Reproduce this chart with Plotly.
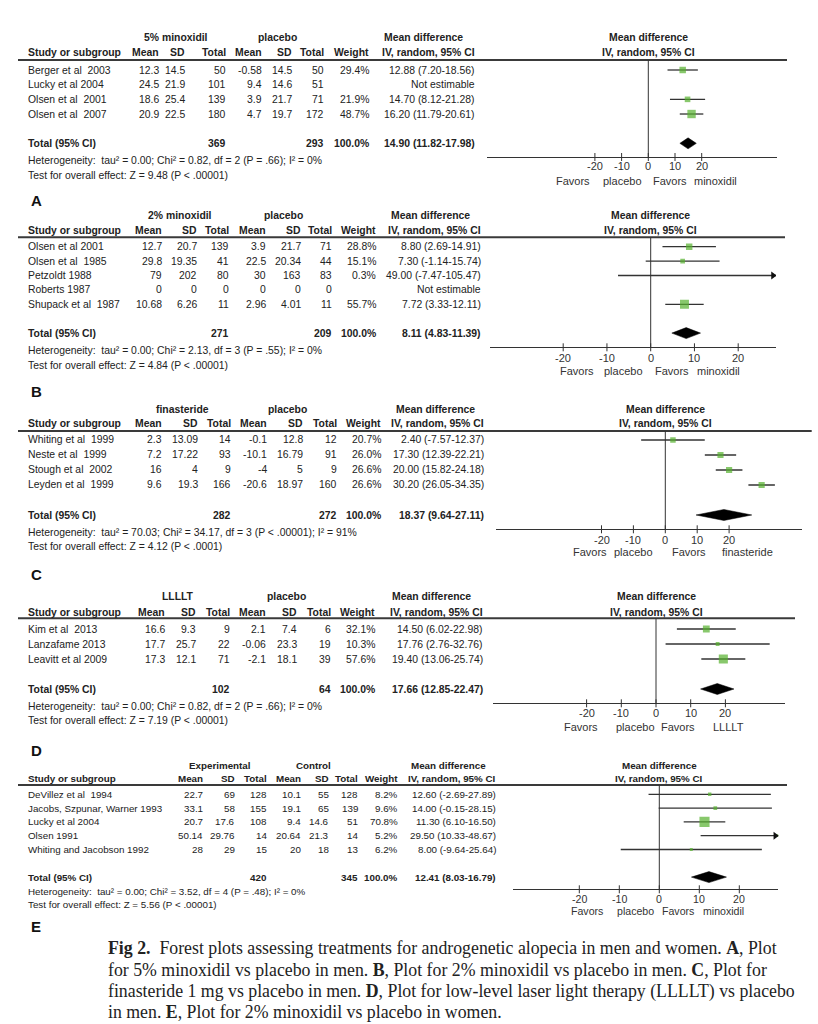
import math
import plotly.graph_objects as go

W, H = 818, 1024
SANS = "Liberation Sans, Arial, sans-serif"
SERIF = "Liberation Serif, Times New Roman, serif"
TXT = "#222222"
LINE = "#333333"
GREEN = "#55B02E"

# ---------------- Panel A : 5% minoxidil vs placebo (men) ----------------
a_studies = ["Berger et al  2003", "Lucky et al 2004", "Olsen et al  2001", "Olsen et al  2007"]
a_mean1 = [12.3, 24.5, 18.6, 20.9]
a_sd1 = [14.5, 21.9, 25.4, 22.5]
a_n1 = [50, 101, 139, 180]
a_mean2 = [-0.58, 9.4, 3.9, 4.7]
a_sd2 = [14.5, 14.6, 21.7, 19.7]
a_n2 = [50, 51, 71, 172]
a_weight = [29.4, None, 21.9, 48.7]
a_md = [12.88, None, 14.70, 16.20]
a_lo = [7.20, None, 8.12, 11.79]
a_hi = [18.56, None, 21.28, 20.61]
a_total = [369, 293]
a_pooled = [14.90, 11.82, 17.98]
a_het = "Heterogeneity:  tau² = 0.00; Chi² = 0.82, df = 2 (P = .66); I² = 0%"
a_test = "Test for overall effect: Z = 9.48 (P < .00001)"
a_groups = ["5% minoxidil", "placebo"]
a_favors = ["Favors", "placebo", "Favors", "minoxidil"]

# ---------------- Panel B : 2% minoxidil vs placebo (men) ----------------
b_studies = ["Olsen et al 2001", "Olsen et al  1985", "Petzoldt 1988", "Roberts 1987", "Shupack et al  1987"]
b_mean1 = [12.7, 29.8, 79, 0, 10.68]
b_sd1 = [20.7, 19.35, 202, 0, 6.26]
b_n1 = [139, 41, 80, 0, 11]
b_mean2 = [3.9, 22.5, 30, 0, 2.96]
b_sd2 = [21.7, 20.34, 163, 0, 4.01]
b_n2 = [71, 44, 83, 0, 11]
b_weight = [28.8, 15.1, 0.3, None, 55.7]
b_md = [8.80, 7.30, 49.00, None, 7.72]
b_lo = [2.69, -1.14, -7.47, None, 3.33]
b_hi = [14.91, 15.74, 105.47, None, 12.11]
b_total = [271, 209]
b_pooled = [8.11, 4.83, 11.39]
b_het = "Heterogeneity:  tau² = 0.00; Chi² = 2.13, df = 3 (P = .55); I² = 0%"
b_test = "Test for overall effect: Z = 4.84 (P < .00001)"
b_groups = ["2% minoxidil", "placebo"]
b_favors = ["Favors", "placebo", "Favors", "minoxidil"]

# ---------------- Panel C : finasteride vs placebo ----------------
c_studies = ["Whiting et al  1999", "Neste et al  1999", "Stough et al  2002", "Leyden et al  1999"]
c_mean1 = [2.3, 7.2, 16, 9.6]
c_sd1 = [13.09, 17.22, 4, 19.3]
c_n1 = [14, 93, 9, 166]
c_mean2 = [-0.1, -10.1, -4, -20.6]
c_sd2 = [12.8, 16.79, 5, 18.97]
c_n2 = [12, 91, 9, 160]
c_weight = [20.7, 26.0, 26.6, 26.6]
c_md = [2.40, 17.30, 20.00, 30.20]
c_lo = [-7.57, 12.39, 15.82, 26.05]
c_hi = [12.37, 22.21, 24.18, 34.35]
c_total = [282, 272]
c_pooled = [18.37, 9.64, 27.11]
c_het = "Heterogeneity:  tau² = 70.03; Chi² = 34.17, df = 3 (P < .00001); I² = 91%"
c_test = "Test for overall effect: Z = 4.12 (P < .0001)"
c_groups = ["finasteride", "placebo"]
c_favors = ["Favors", "placebo", "Favors", "finasteride"]

# ---------------- Panel D : LLLLT vs placebo ----------------
d_studies = ["Kim et al  2013", "Lanzafame 2013", "Leavitt et al 2009"]
d_mean1 = [16.6, 17.7, 17.3]
d_sd1 = [9.3, 25.7, 12.1]
d_n1 = [9, 22, 71]
d_mean2 = [2.1, -0.06, -2.1]
d_sd2 = [7.4, 23.3, 18.1]
d_n2 = [6, 19, 39]
d_weight = [32.1, 10.3, 57.6]
d_md = [14.50, 17.76, 19.40]
d_lo = [6.02, 2.76, 13.06]
d_hi = [22.98, 32.76, 25.74]
d_total = [102, 64]
d_pooled = [17.66, 12.85, 22.47]
d_het = "Heterogeneity:  tau² = 0.00; Chi² = 0.82, df = 2 (P = .66); I² = 0%"
d_test = "Test for overall effect: Z = 7.19 (P < .00001)"
d_groups = ["LLLLT", "placebo"]
d_favors = ["Favors", "placebo", "Favors", "LLLLT"]

# ---------------- Panel E : 2% minoxidil vs placebo (women) ----------------
e_studies = ["DeVillez et al  1994", "Jacobs, Szpunar, Warner 1993", "Lucky et al 2004",
             "Olsen 1991", "Whiting and Jacobson 1992"]
e_mean1 = [22.7, 33.1, 20.7, 50.14, 28]
e_sd1 = [69, 58, 17.6, 29.76, 29]
e_n1 = [128, 155, 108, 14, 15]
e_mean2 = [10.1, 19.1, 9.4, 20.64, 20]
e_sd2 = [55, 65, 14.6, 21.3, 18]
e_n2 = [128, 139, 51, 14, 13]
e_weight = [8.2, 9.6, 70.8, 5.2, 6.2]
e_md = [12.60, 14.00, 11.30, 29.50, 8.00]
e_lo = [-2.69, -0.15, 6.10, 10.33, -9.64]
e_hi = [27.89, 28.15, 16.50, 48.67, 25.64]
e_total = [420, 345]
e_pooled = [12.41, 8.03, 16.79]
e_het = "Heterogeneity:  tau² = 0.00; Chi² = 3.52, df = 4 (P = .48); I² = 0%"
e_test = "Test for overall effect: Z = 5.56 (P < .00001)"
e_groups = ["Experimental", "Control"]
e_favors = ["Favors", "placebo", "Favors", "minoxidil"]

panel_letters = ["A", "B", "C", "D", "E"]
tick_vals = [-20, -10, 0, 10, 20]
tick_text = ["-20", "-10", "0", "10", "20"]

caption_lines = [
    "<b>Fig 2.</b>  Forest plots assessing treatments for androgenetic alopecia in men and women. <b>A</b>, Plot",
    "for 5% minoxidil vs placebo in men. <b>B</b>, Plot for 2% minoxidil vs placebo in men. <b>C</b>, Plot for",
    "finasteride 1 mg vs placebo in men. <b>D</b>, Plot for low-level laser light therapy (LLLLT) vs placebo",
    "in men. <b>E</b>, Plot for 2% minoxidil vs placebo in women.",
]

data_sets = [
    dict(studies=a_studies, m1=a_mean1, s1=a_sd1, n1=a_n1, m2=a_mean2, s2=a_sd2, n2=a_n2, w=a_weight,
         md=a_md, lo=a_lo, hi=a_hi, tot=a_total, pooled=a_pooled, het=a_het, test=a_test,
         groups=a_groups, favors=a_favors),
    dict(studies=b_studies, m1=b_mean1, s1=b_sd1, n1=b_n1, m2=b_mean2, s2=b_sd2, n2=b_n2, w=b_weight,
         md=b_md, lo=b_lo, hi=b_hi, tot=b_total, pooled=b_pooled, het=b_het, test=b_test,
         groups=b_groups, favors=b_favors),
    dict(studies=c_studies, m1=c_mean1, s1=c_sd1, n1=c_n1, m2=c_mean2, s2=c_sd2, n2=c_n2, w=c_weight,
         md=c_md, lo=c_lo, hi=c_hi, tot=c_total, pooled=c_pooled, het=c_het, test=c_test,
         groups=c_groups, favors=c_favors),
    dict(studies=d_studies, m1=d_mean1, s1=d_sd1, n1=d_n1, m2=d_mean2, s2=d_sd2, n2=d_n2, w=d_weight,
         md=d_md, lo=d_lo, hi=d_hi, tot=d_total, pooled=d_pooled, het=d_het, test=d_test,
         groups=d_groups, favors=d_favors),
    dict(studies=e_studies, m1=e_mean1, s1=e_sd1, n1=e_n1, m2=e_mean2, s2=e_sd2, n2=e_n2, w=e_weight,
         md=e_md, lo=e_lo, hi=e_hi, tot=e_total, pooled=e_pooled, het=e_het, test=e_test,
         groups=e_groups, favors=e_favors),
]

# ---------------- layout geometry (pixels) ----------------
geoms = [
    dict(row0=70, sp=14.67, head1=37, head2=52, hline=60, axis=157, ticklab=166, favors=181, het=160,
         test=175, label=200, hright=787, L=487, R=777, zero=648.3, ppu=2.67, mdx=648,
         cols=[160, 186, 227, 263, 293, 325, 370, 476], gx=[176, 277, 424],
         fx=[573, 622, 670, 715], fs=10.4, afs=11),
    dict(row0=246.7, sp=14.4, head1=215, head2=230, hline=237.3, axis=347.3, ticklab=358, favors=371,
         het=350, test=365, label=391.7, hright=785, L=490, R=776, zero=650.7, ppu=4.375, mdx=650,
         cols=[163, 198, 230, 267, 302, 333, 377, 482], gx=[180, 283, 430],
         fx=[577, 623, 672, 718], fs=10.4, afs=11),
    dict(row0=440, sp=15.0, head1=409.3, head2=424, hline=431, axis=529.3, ticklab=540, favors=552.3,
         het=532.3, test=546, label=574.3, hright=811.7, L=496, R=801.7, zero=665.3, ppu=3.19, mdx=665,
         cols=[163, 199, 232, 268, 304, 338, 382, 485], gx=[182, 287, 435],
         fx=[590, 633, 689, 747], fs=10.4, afs=11),
    dict(row0=629, sp=15.0, head1=596.7, head2=612.3, hline=618.3, axis=703.3, ticklab=713.3,
         favors=727.3, het=706, test=720.7, label=750, hright=795, L=493, R=785, zero=656, ppu=3.47,
         mdx=656, cols=[165.7, 196.7, 230.7, 266.7, 297.7, 331.7, 376, 484], gx=[178, 286, 431.7],
         fx=[581, 635, 678, 728], fs=10.4, afs=11),
    dict(row0=794.3, sp=13.8, head1=765, head2=778.3, hline=785, axis=889.3, ticklab=899.3,
         favors=910.7, het=891.7, test=904.3, label=926.7, hright=787, L=513, R=778.3, zero=659.3,
         ppu=4.0, mdx=659, cols=[204, 236, 267.7, 301.7, 330, 359, 399, 497.3],
         gx=[220, 313.3, 448.3], fx=[587, 635, 678, 723], fs=9.8, afs=10.6),
]


def fnum(v):
    return f"{v:g}"


def ci_text(m, lo, hi):
    return f"{m:.2f} ({lo:.2f}-{hi:.2f})"


fig = go.Figure()
annotations = []
shapes = []
axes = {}


def txt(xpx, y, s, yref, anchor="right", size=10.4, bold=False, family=SANS, color=TXT, xref="paper"):
    annotations.append(dict(
        x=xpx / W if xref == "paper" else xpx, xref=xref, y=y, yref=yref,
        text=f"<b>{s}</b>" if bold else s, showarrow=False, xanchor=anchor, yanchor="middle",
        borderpad=0, font=dict(size=size, family=family, color=color)))


STUDY_X = 26.7

for k, (d, g) in enumerate(zip(data_sets, geoms), start=1):
    xa = "x" if k == 1 else f"x{k}"
    ya = "y" if k == 1 else f"y{k}"
    xname = "xaxis" if k == 1 else f"xaxis{k}"
    yname = "yaxis" if k == 1 else f"yaxis{k}"
    row0, sp = g["row0"], g["sp"]

    def row(py):
        return (py - row0) / sp

    top_px = g["head1"] - 14
    bot_px = g["label"] + 14
    xmin = (g["L"] - g["zero"]) / g["ppu"]
    xmax = (g["R"] - g["zero"]) / g["ppu"]
    axes[yname] = dict(domain=[1 - bot_px / H, 1 - top_px / H], range=[row(bot_px), row(top_px)],
                       visible=False, anchor=xa, fixedrange=True)
    axes[xname] = dict(domain=[g["L"] / W, g["R"] / W], range=[xmin, xmax], anchor="free",
                       position=1 - g["axis"] / H, showline=True, linecolor=LINE, linewidth=1,
                       ticks="", showticklabels=False,
                       showgrid=False, zeroline=False, fixedrange=True)

    fs = g["fs"]
    cols = g["cols"]
    n = len(d["studies"])

    # header rows
    txt(g["gx"][0], row(g["head1"]), d["groups"][0], ya, "center", fs, True)
    txt(g["gx"][1], row(g["head1"]), d["groups"][1], ya, "center", fs, True)
    txt(g["gx"][2], row(g["head1"]), "Mean difference", ya, "center", fs, True)
    txt(STUDY_X, row(g["head2"]), "Study or subgroup", ya, "left", fs, True)
    for c, lab in zip(cols, ["Mean", "SD", "Total", "Mean", "SD", "Total", "Weight", "IV, random, 95% CI"]):
        txt(c, row(g["head2"]), lab, ya, "right", fs, True)
    # forest header
    txt(g["mdx"], row(g["head1"]), "Mean difference", ya, "center", fs, True)
    txt(g["mdx"], row(g["head2"]), "IV, random, 95% CI", ya, "center", fs, True)

    # study rows
    for i in range(n):
        txt(STUDY_X, i, d["studies"][i], ya, "left", fs)
        vals = [fnum(d["m1"][i]), fnum(d["s1"][i]), fnum(d["n1"][i]),
                fnum(d["m2"][i]), fnum(d["s2"][i]), fnum(d["n2"][i])]
        for c, v in zip(cols[:6], vals):
            txt(c, i, v, ya, "right", fs)
        if d["w"][i] is not None:
            txt(cols[6], i, f"{d['w'][i]:.1f}%", ya, "right", fs)
        if d["md"][i] is not None:
            txt(cols[7], i, ci_text(d["md"][i], d["lo"][i], d["hi"][i]), ya, "right", fs)
        else:
            txt(cols[7], i, "Not estimable", ya, "right", fs)

    # total row
    tr = n + 1
    txt(STUDY_X, tr, "Total (95% CI)", ya, "left", fs, True)
    txt(cols[2], tr, fnum(d["tot"][0]), ya, "right", fs, True)
    txt(cols[5], tr, fnum(d["tot"][1]), ya, "right", fs, True)
    txt(cols[6], tr, "100.0%", ya, "right", fs, True)
    pm, pl, ph = d["pooled"]
    txt(cols[7], tr, ci_text(pm, pl, ph), ya, "right", fs, True)

    txt(STUDY_X, row(g["het"]), d["het"], ya, "left", fs)
    txt(STUDY_X, row(g["test"]), d["test"], ya, "left", fs)

    # axis tick labels and crossing ticks (placed on the forest x scale)
    for v, lab in zip(tick_vals, tick_text):
        txt(v, row(g["ticklab"]), lab, ya, "center", g["afs"], color="#333", xref=xa)
        shapes.append(dict(type="line", xref=xa, yref=ya, x0=v, x1=v,
                           y0=row(g["axis"] - 4), y1=row(g["axis"] + 4),
                           line=dict(color=LINE, width=1)))

    # favors labels
    for fxp, lab in zip(g["fx"], d["favors"]):
        txt(fxp, row(g["favors"]), lab, ya, "center", g["afs"], color="#333")

    # panel letter
    txt(36, row(g["label"]), panel_letters[k - 1], ya, "center", 15, True, color="#111")

    # header rule and zero line
    shapes.append(dict(type="line", xref="paper", yref=ya, x0=18 / W, x1=g["hright"] / W,
                       y0=row(g["hline"]), y1=row(g["hline"]), line=dict(color="#3a3a3a", width=2)))
    shapes.append(dict(type="line", xref=xa, yref=ya, x0=0, x1=0,
                       y0=row(g["hline"]), y1=row(g["axis"]), line=dict(color=LINE, width=1)))

    # study markers with CI whiskers
    idx = [i for i in range(n) if d["md"][i] is not None]
    xs = [d["md"][i] for i in idx]
    ys = idx
    plus = [d["hi"][i] - d["md"][i] for i in idx]
    minus = [d["md"][i] - d["lo"][i] for i in idx]
    sizes = [max(2.0, 1.2 * math.sqrt(d["w"][i])) for i in idx]
    fig.add_trace(go.Scatter(
        x=xs, y=ys, mode="markers", xaxis=xa, yaxis=ya, hoverinfo="skip",
        marker=dict(symbol="square", size=sizes, color=GREEN, line=dict(width=0)),
        error_x=dict(type="data", symmetric=False, array=plus, arrayminus=minus,
                     color=LINE, thickness=1.3, width=0)))

    # arrows for CIs running off the scale
    ax_x, ax_y, ax_sym = [], [], []
    for i in idx:
        if d["hi"][i] > xmax:
            ax_x.append(xmax - 3.0 / g["ppu"]); ax_y.append(i); ax_sym.append("triangle-right")
        if d["lo"][i] < xmin:
            ax_x.append(xmin + 3.0 / g["ppu"]); ax_y.append(i); ax_sym.append("triangle-left")
    if ax_x:
        fig.add_trace(go.Scatter(x=ax_x, y=ax_y, mode="markers", xaxis=xa, yaxis=ya, hoverinfo="skip",
                                 marker=dict(symbol=ax_sym, size=7, color="#111", line=dict(width=0))))

    # pooled diamond
    hh = 5.5 / sp
    fig.add_trace(go.Scatter(
        x=[pl, pm, ph, pm, pl], y=[tr, tr - hh, tr, tr + hh, tr], mode="lines", fill="toself",
        fillcolor="#000000", line=dict(color="#000000", width=0.5), xaxis=xa, yaxis=ya, hoverinfo="skip"))

# caption
cap_y = [948, 969.5, 991, 1012]
for line, py in zip(caption_lines, cap_y):
    annotations.append(dict(x=107 / W, xref="paper", y=1 - py / H, yref="paper", text=line,
                            showarrow=False, xanchor="left", yanchor="middle", borderpad=0,
                            font=dict(size=17.8, family=SERIF, color=TXT)))

fig.update_layout(
    width=W, height=H, margin=dict(l=0, r=0, t=0, b=0), showlegend=False,
    paper_bgcolor="white", plot_bgcolor="rgba(0,0,0,0)",
    font=dict(family=SANS, color=TXT),
    annotations=annotations, shapes=shapes, **axes)

fig.write_html("out.html", include_plotlyjs=True, config={"displayModeBar": False},
               post_script="document.body.style.margin='0';document.body.style.overflow='hidden';")
